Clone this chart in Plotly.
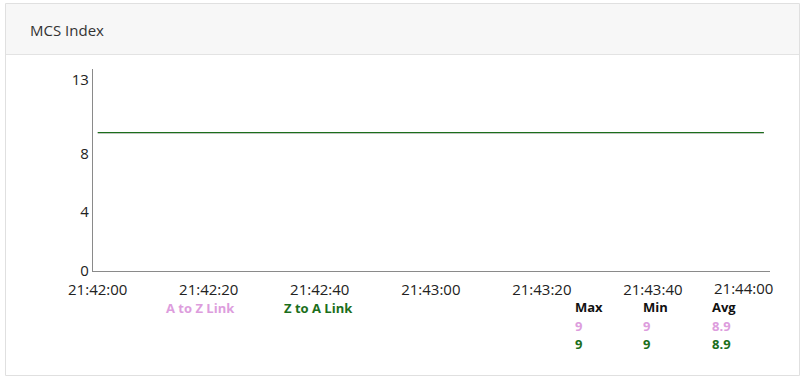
import plotly.graph_objects as go

# ---- data ----
times = ["2024-01-01 21:42:00", "2024-01-01 21:42:10", "2024-01-01 21:42:20",
         "2024-01-01 21:42:30", "2024-01-01 21:42:40", "2024-01-01 21:42:50",
         "2024-01-01 21:43:00", "2024-01-01 21:43:10", "2024-01-01 21:43:20",
         "2024-01-01 21:43:30", "2024-01-01 21:43:40", "2024-01-01 21:43:50",
         "2024-01-01 21:44:00"]
a_to_z = [9.4, 9.4, 9.4, 9.4, 9.4, 9.4, 9.4, 9.4, 9.4, 9.4, 9.4, 9.4, 9.4]
z_to_a = [9.4, 9.4, 9.4, 9.4, 9.4, 9.4, 9.4, 9.4, 9.4, 9.4, 9.4, 9.4, 9.4]
series_names = ["A to Z Link", "Z to A Link"]
stat_headers = ["Max", "Min", "Avg"]
stats_a_to_z = ["9", "9", "8.9"]
stats_z_to_a = ["9", "9", "8.9"]
x_tickvals = ["2024-01-01 21:42:00", "2024-01-01 21:42:20", "2024-01-01 21:42:40",
              "2024-01-01 21:43:00", "2024-01-01 21:43:20", "2024-01-01 21:43:40",
              "2024-01-01 21:44:00"]
x_ticktext = ["21:42:00", "21:42:20", "21:42:40", "21:43:00", "21:43:20", "21:43:40", "21:44:00"]
y_tickvals = [0, 4, 8, 13]
title_text = "MCS Index"

PINK = "#dd9ddd"
GREEN = "#1b6e1b"
FONT = "Open Sans"

W, H = 806, 386
L, R, T, B = 93, 36, 69, 115
PW, PH = W - L - R, H - T - B

def xp(px):
    return (px - L) / PW

def yp(py):
    return 1 - (py - T) / PH

fig = go.Figure()
fig.add_trace(go.Scatter(x=times, y=a_to_z, mode="lines", name=series_names[0],
                         line=dict(color=PINK, width=1.2), hoverinfo="skip"))
fig.add_trace(go.Scatter(x=times, y=z_to_a, mode="lines", name=series_names[1],
                         line=dict(color=GREEN, width=1.2), hoverinfo="skip"))

shapes = [
    # card
    dict(type="rect", xref="paper", yref="paper", x0=xp(5.5), x1=xp(799.5), y0=yp(375.5), y1=yp(3.5),
         line=dict(color="#e0e0e0", width=1), fillcolor="white", layer="below"),
    # header
    dict(type="rect", xref="paper", yref="paper", x0=xp(6), x1=xp(799), y0=yp(54.5), y1=yp(4),
         line=dict(width=0), fillcolor="#f7f7f7", layer="below"),
    dict(type="line", xref="paper", yref="paper", x0=xp(6), x1=xp(799), y0=yp(54.5), y1=yp(54.5),
         line=dict(color="#e3e3e3", width=1), layer="below"),
]

annotations = [
    dict(text=title_text, xref="paper", yref="paper", x=xp(28), y=yp(30), xanchor="left", yanchor="middle",
         showarrow=False, font=dict(family=FONT, size=15, color="#333333")),
    dict(text="<b>" + series_names[0] + "</b>", xref="paper", yref="paper", x=xp(200), y=yp(308),
         xanchor="center", yanchor="middle", showarrow=False, font=dict(family=FONT, size=13, color=PINK)),
    dict(text="<b>" + series_names[1] + "</b>", xref="paper", yref="paper", x=xp(318), y=yp(308),
         xanchor="center", yanchor="middle", showarrow=False, font=dict(family=FONT, size=13, color=GREEN)),
    # last tick label kept inside the card
    dict(text=x_ticktext[-1], x=x_tickvals[-1], xref="x", yref="paper", y=yp(288), xanchor="right",
         yanchor="middle", xshift=11, showarrow=False, font=dict(family=FONT, size=15, color="#222222")),
]
col_x = [573, 641, 710]
for i, h in enumerate(stat_headers):
    annotations.append(dict(text="<b>" + h + "</b>", xref="paper", yref="paper", x=xp(col_x[i]), y=yp(307),
                            xanchor="left", yanchor="middle", showarrow=False,
                            font=dict(family=FONT, size=13, color="#111111")))
    annotations.append(dict(text="<b>" + stats_a_to_z[i] + "</b>", xref="paper", yref="paper", x=xp(col_x[i]),
                            y=yp(326), xanchor="left", yanchor="middle", showarrow=False,
                            font=dict(family=FONT, size=13, color=PINK)))
    annotations.append(dict(text="<b>" + stats_z_to_a[i] + "</b>", xref="paper", yref="paper", x=xp(col_x[i]),
                            y=yp(344), xanchor="left", yanchor="middle", showarrow=False,
                            font=dict(family=FONT, size=13, color=GREEN)))

fig.update_layout(
    width=W, height=H,
    margin=dict(l=L, r=R, t=T, b=B),
    paper_bgcolor="white", plot_bgcolor="white",
    showlegend=False,
    shapes=shapes, annotations=annotations,
    font=dict(family=FONT, size=15, color="#222222"),
    xaxis=dict(type="date", range=["2024-01-01 21:41:59.15", "2024-01-01 21:44:01.1"],
               tickvals=x_tickvals, ticktext=x_ticktext[:-1] + [""],
               showgrid=False, zeroline=False, showline=True, linecolor="#8a8a8a", linewidth=1.3,
               ticks="", ticklabelstandoff=5, tickfont=dict(family=FONT, size=15, color="#222222")),
    yaxis=dict(range=[0, 13.73], tickvals=y_tickvals, ticktext=[str(v) for v in y_tickvals],
               showgrid=False, zeroline=False, showline=True, linecolor="#8a8a8a", linewidth=1.3,
               ticks="", ticklabelstandoff=0, tickfont=dict(family=FONT, size=15, color="#222222")),
)

fig.write_html("out.html")
